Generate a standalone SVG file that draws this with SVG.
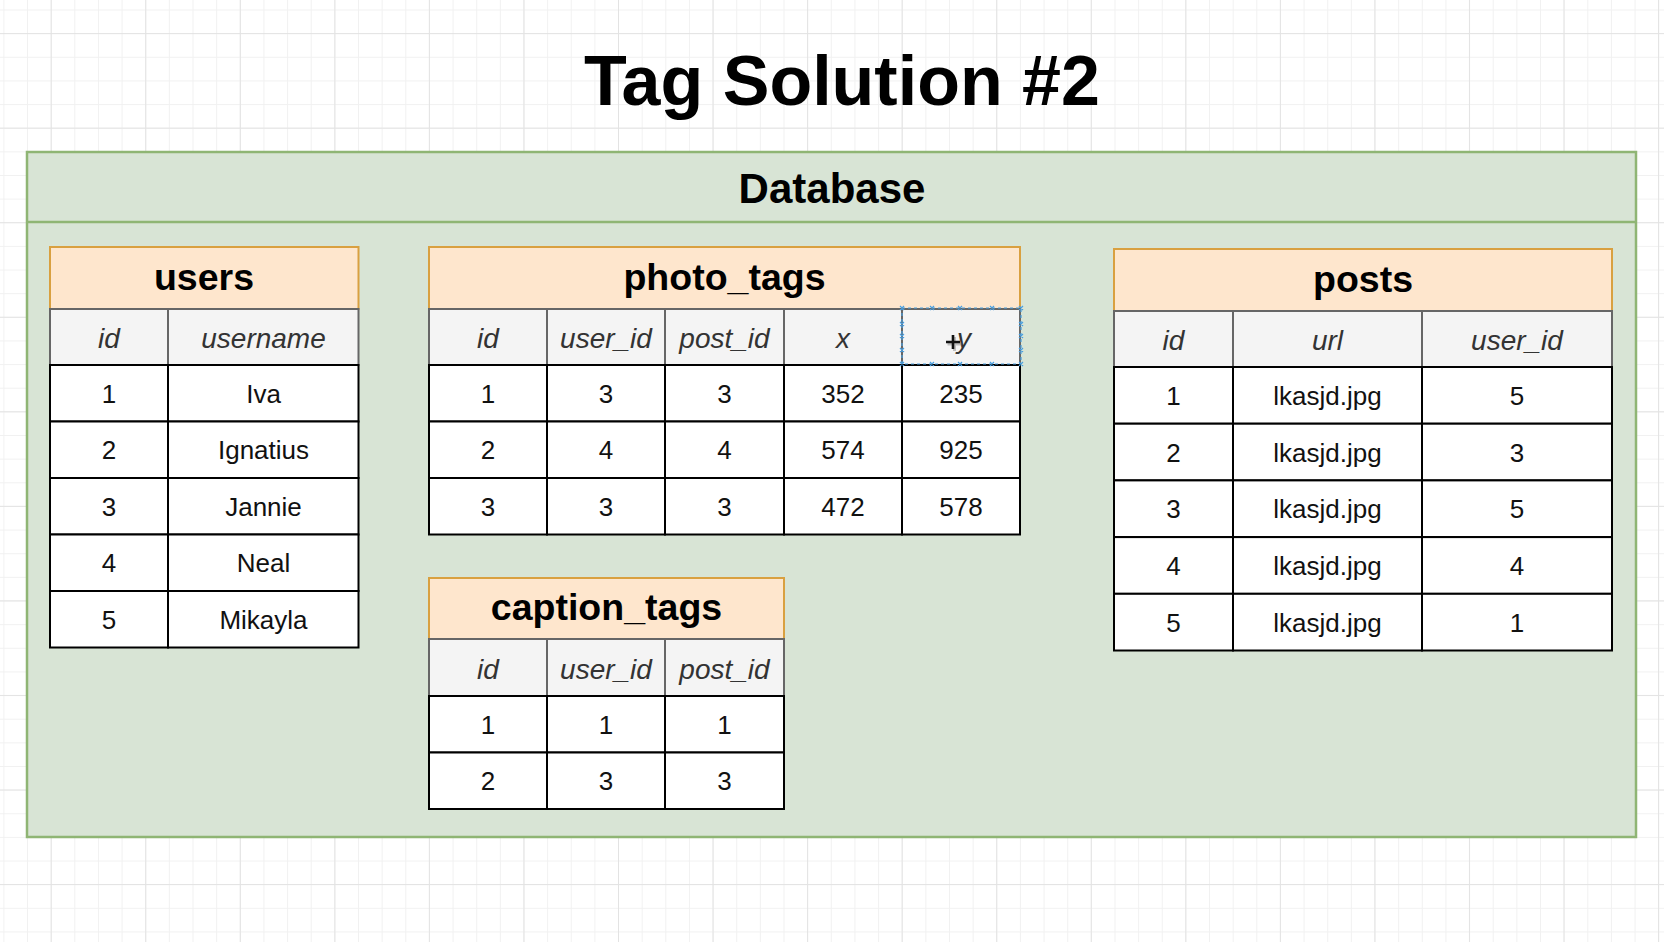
<svg xmlns="http://www.w3.org/2000/svg" width="1664" height="942" viewBox="0 0 1664 942">
<defs>
<pattern id="gMinor" patternUnits="userSpaceOnUse" x="3.4" y="9.5" width="23.64" height="23.64">
<path d="M0.5 0V23.64M0 0.5H23.64" fill="none" stroke="#f1f1f1" stroke-width="1"/>
</pattern>
<pattern id="gMajor" patternUnits="userSpaceOnUse" x="50.7" y="33.1" width="94.55" height="94.55">
<path d="M0.5 0V94.55M0 0.5H94.55" fill="none" stroke="#e3e3e3" stroke-width="1"/>
</pattern>
<style>
.ttl{fill:#fee6cd;stroke:#d9a040;stroke-width:2}
.hdr{fill:#f4f4f4;stroke:#666;stroke-width:2}
.cell{fill:#fff;stroke:#000;stroke-width:2}
text{font-family:"Liberation Sans",Arial,Helvetica,sans-serif;text-anchor:middle}
.tt{font-size:37.5px;font-weight:bold;fill:#000}
.ht{font-size:28px;font-style:italic;fill:#333}
.dt{font-size:26px;fill:#111}
.sel{fill:none;stroke:#4a9fe0;stroke-width:1.2;stroke-dasharray:3 3}
.hx{stroke:#4a9fe0;stroke-width:1.2}
</style>
</defs>
<rect width="1664" height="942" fill="#fff"/>
<rect width="1664" height="942" fill="url(#gMinor)"/>
<rect width="1664" height="942" fill="url(#gMajor)"/>

<g id="title">
<text x="842" y="105" style="font-size:70px;font-weight:bold" fill="#000">Tag Solution #2</text>
</g>

<g id="database">
<rect x="27" y="152" width="1609" height="685" fill="#d8e4d5" stroke="#8fb574" stroke-width="2.5"/>
<line x1="27" y1="222" x2="1636" y2="222" stroke="#8fb574" stroke-width="2.5"/>
<text x="832" y="203" style="font-size:42px;font-weight:bold" fill="#000">Database</text>
</g>

<g id="users">
<rect class="ttl" x="50" y="247" width="308.5" height="62"/>
<text class="tt" x="204" y="289.5">users</text>
<rect class="hdr" x="50" y="309" width="118" height="56"/>
<rect class="hdr" x="168" y="309" width="190.5" height="56"/>
<text class="ht" x="109" y="348">id</text>
<text class="ht" x="263.5" y="348">username</text>
<rect class="cell" x="50" y="365" width="118" height="56.5"/><rect class="cell" x="168" y="365" width="190.5" height="56.5"/>
<rect class="cell" x="50" y="421.5" width="118" height="56.5"/><rect class="cell" x="168" y="421.5" width="190.5" height="56.5"/>
<rect class="cell" x="50" y="478" width="118" height="56.5"/><rect class="cell" x="168" y="478" width="190.5" height="56.5"/>
<rect class="cell" x="50" y="534.5" width="118" height="56.5"/><rect class="cell" x="168" y="534.5" width="190.5" height="56.5"/>
<rect class="cell" x="50" y="591" width="118" height="56.5"/><rect class="cell" x="168" y="591" width="190.5" height="56.5"/>
<text class="dt" x="109" y="402.75">1</text><text class="dt" x="263.5" y="402.75">Iva</text>
<text class="dt" x="109" y="459.25">2</text><text class="dt" x="263.5" y="459.25">Ignatius</text>
<text class="dt" x="109" y="515.75">3</text><text class="dt" x="263.5" y="515.75">Jannie</text>
<text class="dt" x="109" y="572.25">4</text><text class="dt" x="263.5" y="572.25">Neal</text>
<text class="dt" x="109" y="628.75">5</text><text class="dt" x="263.5" y="628.75">Mikayla</text>
</g>

<g id="photo_tags">
<rect class="ttl" x="429" y="247" width="591" height="62"/>
<text class="tt" x="724.5" y="289.5">photo_tags</text>
<rect class="hdr" x="429" y="309" width="118" height="56"/>
<rect class="hdr" x="547" y="309" width="118" height="56"/>
<rect class="hdr" x="665" y="309" width="119" height="56"/>
<rect class="hdr" x="784" y="309" width="118" height="56"/>
<rect class="hdr" x="902" y="309" width="118" height="56"/>
<text class="ht" x="488" y="348">id</text>
<text class="ht" x="606" y="348">user_id</text>
<text class="ht" x="724.5" y="348">post_id</text>
<text class="ht" x="843" y="348">x</text>
<text class="ht" x="964" y="348">y</text>
<g>
<rect class="cell" x="429" y="365" width="118" height="56.5"/><rect class="cell" x="547" y="365" width="118" height="56.5"/><rect class="cell" x="665" y="365" width="119" height="56.5"/><rect class="cell" x="784" y="365" width="118" height="56.5"/><rect class="cell" x="902" y="365" width="118" height="56.5"/>
<rect class="cell" x="429" y="421.5" width="118" height="56.5"/><rect class="cell" x="547" y="421.5" width="118" height="56.5"/><rect class="cell" x="665" y="421.5" width="119" height="56.5"/><rect class="cell" x="784" y="421.5" width="118" height="56.5"/><rect class="cell" x="902" y="421.5" width="118" height="56.5"/>
<rect class="cell" x="429" y="478" width="118" height="56.5"/><rect class="cell" x="547" y="478" width="118" height="56.5"/><rect class="cell" x="665" y="478" width="119" height="56.5"/><rect class="cell" x="784" y="478" width="118" height="56.5"/><rect class="cell" x="902" y="478" width="118" height="56.5"/>
</g>
<text class="dt" x="488" y="402.75">1</text><text class="dt" x="606" y="402.75">3</text><text class="dt" x="724.5" y="402.75">3</text><text class="dt" x="843" y="402.75">352</text><text class="dt" x="961" y="402.75">235</text>
<text class="dt" x="488" y="459.25">2</text><text class="dt" x="606" y="459.25">4</text><text class="dt" x="724.5" y="459.25">4</text><text class="dt" x="843" y="459.25">574</text><text class="dt" x="961" y="459.25">925</text>
<text class="dt" x="488" y="515.75">3</text><text class="dt" x="606" y="515.75">3</text><text class="dt" x="724.5" y="515.75">3</text><text class="dt" x="843" y="515.75">472</text><text class="dt" x="961" y="515.75">578</text>
<rect class="sel" x="902" y="308" width="119" height="56"/>
<path class="hx" d="M900 306l4 4m0-4l-4 4M930 306l4 4m0-4l-4 4M958 306l4 4m0-4l-4 4M990 306l4 4m0-4l-4 4M1019 306l4 4m0-4l-4 4M900 362l4 4m0-4l-4 4M930 362l4 4m0-4l-4 4M958 362l4 4m0-4l-4 4M990 362l4 4m0-4l-4 4M1019 362l4 4m0-4l-4 4M900 322l4 4m0-4l-4 4M900 334l4 4m0-4l-4 4M900 348l4 4m0-4l-4 4M1019 322l4 4m0-4l-4 4M1019 334l4 4m0-4l-4 4M1019 348l4 4m0-4l-4 4"/>
<path d="M953 335v14M946 342h14" fill="none" stroke="#888" stroke-width="3" opacity="0.5" transform="translate(1.5 2)"/>
<path d="M953 335v14M946 342h14" fill="none" stroke="#111" stroke-width="2.6"/>
</g>

<g id="caption_tags">
<rect class="ttl" x="429" y="578" width="355" height="61"/>
<text class="tt" x="606.5" y="620">caption_tags</text>
<rect class="hdr" x="429" y="639" width="118" height="57"/>
<rect class="hdr" x="547" y="639" width="118" height="57"/>
<rect class="hdr" x="665" y="639" width="119" height="57"/>
<text class="ht" x="488" y="678.5">id</text>
<text class="ht" x="606" y="678.5">user_id</text>
<text class="ht" x="724.5" y="678.5">post_id</text>
<rect class="cell" x="429" y="696" width="118" height="56.5"/><rect class="cell" x="547" y="696" width="118" height="56.5"/><rect class="cell" x="665" y="696" width="119" height="56.5"/>
<rect class="cell" x="429" y="752.5" width="118" height="56.5"/><rect class="cell" x="547" y="752.5" width="118" height="56.5"/><rect class="cell" x="665" y="752.5" width="119" height="56.5"/>
<text class="dt" x="488" y="733.75">1</text><text class="dt" x="606" y="733.75">1</text><text class="dt" x="724.5" y="733.75">1</text>
<text class="dt" x="488" y="790.25">2</text><text class="dt" x="606" y="790.25">3</text><text class="dt" x="724.5" y="790.25">3</text>
</g>

<g id="posts">
<rect class="ttl" x="1114" y="249" width="498" height="62"/>
<text class="tt" x="1363" y="291.5">posts</text>
<rect class="hdr" x="1114" y="311" width="119" height="56"/>
<rect class="hdr" x="1233" y="311" width="189" height="56"/>
<rect class="hdr" x="1422" y="311" width="190" height="56"/>
<text class="ht" x="1173.5" y="350">id</text>
<text class="ht" x="1327.5" y="350">url</text>
<text class="ht" x="1517" y="350">user_id</text>
<rect class="cell" x="1114" y="367" width="119" height="56.7"/><rect class="cell" x="1233" y="367" width="189" height="56.7"/><rect class="cell" x="1422" y="367" width="190" height="56.7"/>
<rect class="cell" x="1114" y="423.7" width="119" height="56.7"/><rect class="cell" x="1233" y="423.7" width="189" height="56.7"/><rect class="cell" x="1422" y="423.7" width="190" height="56.7"/>
<rect class="cell" x="1114" y="480.4" width="119" height="56.7"/><rect class="cell" x="1233" y="480.4" width="189" height="56.7"/><rect class="cell" x="1422" y="480.4" width="190" height="56.7"/>
<rect class="cell" x="1114" y="537.1" width="119" height="56.7"/><rect class="cell" x="1233" y="537.1" width="189" height="56.7"/><rect class="cell" x="1422" y="537.1" width="190" height="56.7"/>
<rect class="cell" x="1114" y="593.8" width="119" height="56.7"/><rect class="cell" x="1233" y="593.8" width="189" height="56.7"/><rect class="cell" x="1422" y="593.8" width="190" height="56.7"/>
<text class="dt" x="1173.5" y="404.85">1</text><text class="dt" x="1327.5" y="404.85">lkasjd.jpg</text><text class="dt" x="1517" y="404.85">5</text>
<text class="dt" x="1173.5" y="461.55">2</text><text class="dt" x="1327.5" y="461.55">lkasjd.jpg</text><text class="dt" x="1517" y="461.55">3</text>
<text class="dt" x="1173.5" y="518.25">3</text><text class="dt" x="1327.5" y="518.25">lkasjd.jpg</text><text class="dt" x="1517" y="518.25">5</text>
<text class="dt" x="1173.5" y="574.95">4</text><text class="dt" x="1327.5" y="574.95">lkasjd.jpg</text><text class="dt" x="1517" y="574.95">4</text>
<text class="dt" x="1173.5" y="631.65">5</text><text class="dt" x="1327.5" y="631.65">lkasjd.jpg</text><text class="dt" x="1517" y="631.65">1</text>
</g>

<g id="connectors"></g>
</svg>
